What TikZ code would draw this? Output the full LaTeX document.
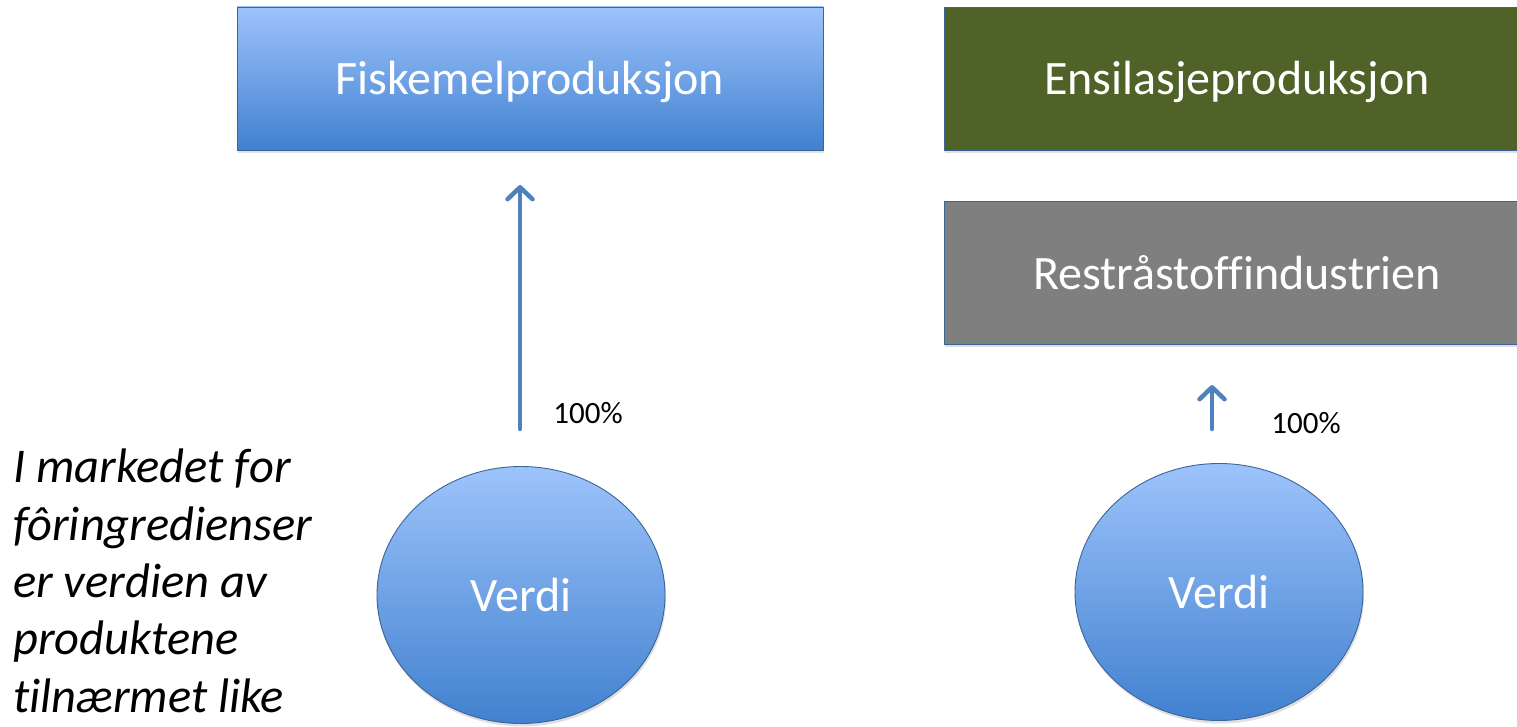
\documentclass[tikz,border=0pt]{standalone}
\usepackage{fontspec}
\setmainfont{Carlito}[Ligatures={TeX,NoCommon}]
\usetikzlibrary{shapes.geometric,shadows,arrows.meta}
\definecolor{outl}{HTML}{3C6496}
\definecolor{gtop}{HTML}{9DC3FB}
\definecolor{gbot}{HTML}{4181CF}
\definecolor{olive}{HTML}{4F6228}
\definecolor{greybox}{HTML}{7F7F7F}
\definecolor{arrowblue}{HTML}{4F81BD}
\tikzset{
  bigtext/.style={text=white, font=\fontsize{48}{58}\selectfont, text height=40pt, text depth=7pt},
  boxbase/.style={rectangle, draw=outl, line width=0.9pt, minimum width=586pt, minimum height=143pt,
    bigtext, inner sep=0pt,
    drop shadow={opacity=0.25, shadow xshift=1pt, shadow yshift=-3pt}},
  bluebox/.style={boxbase, top color=gtop, bottom color=gbot},
  greenbox/.style={boxbase, fill=olive},
  greybx/.style={boxbase, fill=greybox},
  valell/.style={ellipse, draw=outl, line width=0.9pt, minimum width=288pt, minimum height=257pt,
    top color=gtop, bottom color=gbot, bigtext, inner sep=0pt,
    drop shadow={opacity=0.25, shadow xshift=1pt, shadow yshift=-3pt}},
  flow/.style={draw=arrowblue, line width=4.5pt, line cap=round,
    -{Straight Barb[length=12pt,width=25pt,line width=0pt 1,round]}},
  pct/.style={font=\fontsize{31}{37}\selectfont, inner sep=0pt},
}
\begin{document}
\begin{tikzpicture}[x=1pt,y=-1pt]
\useasboundingbox (0,0) rectangle (1517,727);
\node[bluebox] (fisk) at (530,78.5) {Fiskemelproduksjon};
\node[greenbox] (ens) at (1237,78.5) {Ensilasjeproduksjon};
\node[greybx] (rest) at (1237,272.5) {Restråstoffindustrien};
\node[valell] (v1) at (521,595) {Verdi};
\node[valell] (v2) at (1219,592) {Verdi};
\coordinate (a1s) at (520,429);
\coordinate (a1e) at (520,185);
\coordinate (a2s) at (1212,429);
\coordinate (a2e) at (1212,385);
\draw[flow] (a1s) -- (a1e);
\draw[flow] (a2s) -- (a2e);
\node[pct] (p1) at (588,413) {100\%};
\node[pct] (p2) at (1306,423) {100\%};
\node[anchor=base west, inner sep=0pt, align=left, font=\fontsize{48.5}{57.3}\selectfont\itshape] (note) at (13,712)
  {I markedet for\\fôringredienser\\er verdien av\\produktene\\tilnærmet like};
\end{tikzpicture}
\end{document}
